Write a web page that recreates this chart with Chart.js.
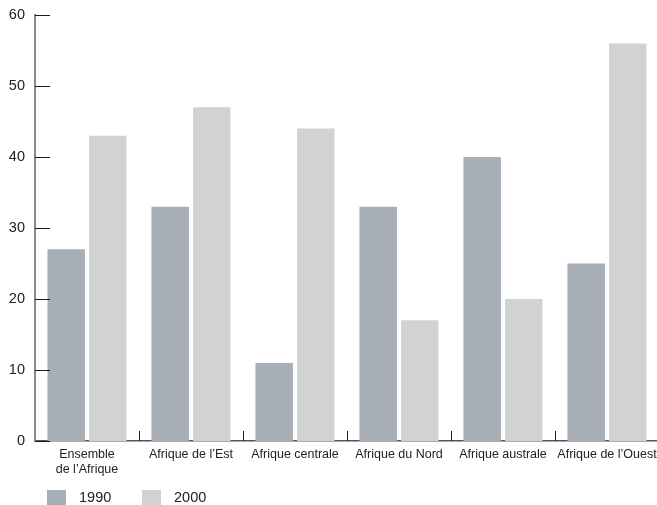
<!DOCTYPE html>
<html>
<head>
<meta charset="utf-8">
<script src="https://cdn.jsdelivr.net/npm/chart.js@4"></script>
<style>
  html, body { margin: 0; padding: 0; background: #fff; overflow: hidden; }
  #wrap { width: 659px; height: 505px; position: relative; }
  .legend { position: absolute; top: 490px; left: 0; height: 15px; font: 14.5px 'Liberation Sans', Arial, sans-serif; color: #222; }
  .legend span { position: absolute; top: 0; white-space: nowrap; line-height: 15px; }
  .legend i { position: absolute; top: 0; width: 19px; height: 15px; }
</style>
</head>
<body>
<div id="wrap">
  <canvas id="chart"></canvas>
  <div class="legend" id="legend"></div>
</div>
<script>
'use strict';

const categories = [['Ensemble', 'de l’Afrique'], 'Afrique de l’Est', 'Afrique centrale', 'Afrique du Nord', 'Afrique australe', 'Afrique de l’Ouest'];
const seriesNames = ['1990', '2000'];
const values1990 = [27, 33, 11, 33, 40, 25];
const values2000 = [43, 47, 44, 17, 20, 56];
const yMax = 60;
const yStep = 10;

const colors = ['#a7aeb5', '#d1d2d4'];
const FONT = 'Liberation Sans, Arial, sans-serif';

// petites graduations vers l'intérieur, comme sur l'original
const innerTicks = {
    id: 'innerTicks',
    afterDraw(chart) {
        const { ctx, chartArea, scales: { x, y } } = chart;
        ctx.save();
        ctx.strokeStyle = '#1a1a1a';
        ctx.lineWidth = 1;
        ctx.beginPath();
        y.ticks.forEach((t, i) => {
            const py = Math.round(y.getPixelForTick(i)) + 0.5;
            ctx.moveTo(chartArea.left, py);
            ctx.lineTo(chartArea.left + 15, py);
        });
        for (let i = 1; i < categories.length; i++) {
            const px = Math.round((x.getPixelForTick(i - 1) + x.getPixelForTick(i)) / 2) + 0.5;
            ctx.moveTo(px, chartArea.bottom);
            ctx.lineTo(px, chartArea.bottom - 10);
        }
        ctx.stroke();
        ctx.restore();
    }
};

new Chart(document.getElementById('chart'), {
    type: 'bar',
    data: {
        labels: categories,
        datasets: [
            { label: seriesNames[0], data: values1990, backgroundColor: colors[0] },
            { label: seriesNames[1], data: values2000, backgroundColor: colors[1] }
        ]
    },
    options: {
        responsive: true,
        maintainAspectRatio: false,
        animation: false,
        layout: { padding: { top: 15, right: 0, left: 0, bottom: 22 } },
        datasets: { bar: { categoryPercentage: 0.8, barPercentage: 0.9, borderWidth: 0 } },
        plugins: {
            tooltip: { enabled: false },
            legend: { display: false }
        },
        scales: {
            x: {
                afterFit(scale) { scale.paddingLeft = 0; scale.paddingRight = 0; },
                grid: { display: false, drawTicks: false },
                border: { display: true, color: '#555', width: 1.5 },
                ticks: {
                    color: '#222',
                    padding: 6,
                    maxRotation: 0,
                    autoSkip: false,
                    font: { family: FONT, size: 12.5, lineHeight: 1.2 }
                }
            },
            y: {
                min: 0,
                max: yMax,
                afterFit(scale) { scale.width = 35; scale.paddingTop = 0; },
                grid: { display: false, drawTicks: false },
                border: { display: true, color: '#8a8a8a', width: 2 },
                ticks: {
                    stepSize: yStep,
                    color: '#222',
                    padding: 10,
                    font: { family: FONT, size: 14.5 }
                }
            }
        }
    },
    plugins: [innerTicks]
});

// légende en bas à gauche
const legendX = [47, 142];
document.getElementById('legend').innerHTML = seriesNames.map((name, i) =>
    `<i style="left:${legendX[i]}px;background:${colors[i]}"></i><span style="left:${legendX[i] + 32}px">${name}</span>`
).join('');
</script>
</body>
</html>
